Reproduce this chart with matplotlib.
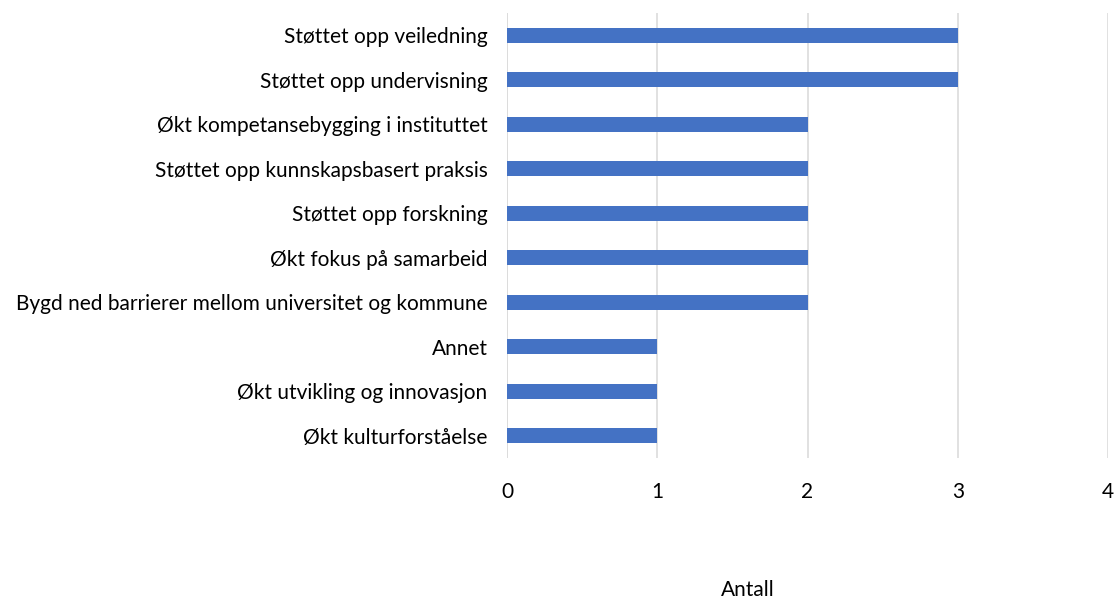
import matplotlib
matplotlib.use("Agg")
import matplotlib.pyplot as plt

categories = [
    "Støttet opp veiledning",
    "Støttet opp undervisning",
    "Økt kompetansebygging i instituttet",
    "Støttet opp kunnskapsbasert praksis",
    "Støttet opp forskning",
    "Økt fokus på samarbeid",
    "Bygd ned barrierer mellom universitet og kommune",
    "Annet",
    "Økt utvikling og innovasjon",
    "Økt kulturforståelse",
]
values = [3, 3, 2, 2, 2, 2, 2, 1, 1, 1]
xticks = [0, 1, 2, 3, 4]
xlabel = "Antall"

plt.rcParams['font.family'] = ['Lato', 'DejaVu Sans']
FS = 15

fig = plt.figure(figsize=(11.15, 5.99), dpi=100)
ax = fig.add_axes([507/1115, 1 - 458/599, (1108-507)/1115, (458-13)/599])

ypos = list(range(len(categories)))
ax.barh(ypos, values, height=0.34, color="#4472C4", zorder=3)
ax.set_ylim(len(categories) - 0.5, -0.5)
ax.set_xlim(0, 4)
ax.set_yticks(ypos)
ax.set_yticklabels(categories, fontsize=FS, color="#000000")
ax.set_xticks(xticks)
ax.set_xticklabels([str(t) for t in xticks], fontsize=FS)
ax.tick_params(axis='both', length=0)
ax.tick_params(axis='y', pad=14)
ax.tick_params(axis='x', pad=17)
ax.grid(axis='x', color="#DCDCDC", linewidth=1.2, zorder=0)
for s in ax.spines.values():
    s.set_visible(False)
ax.axvline(0, color="#DCDCDC", linewidth=1.2, zorder=1)

fig.text(748/1115, 1 - 590/599, xlabel, fontsize=FS, ha='center', va='center')

fig.savefig("out.png", dpi=100)
